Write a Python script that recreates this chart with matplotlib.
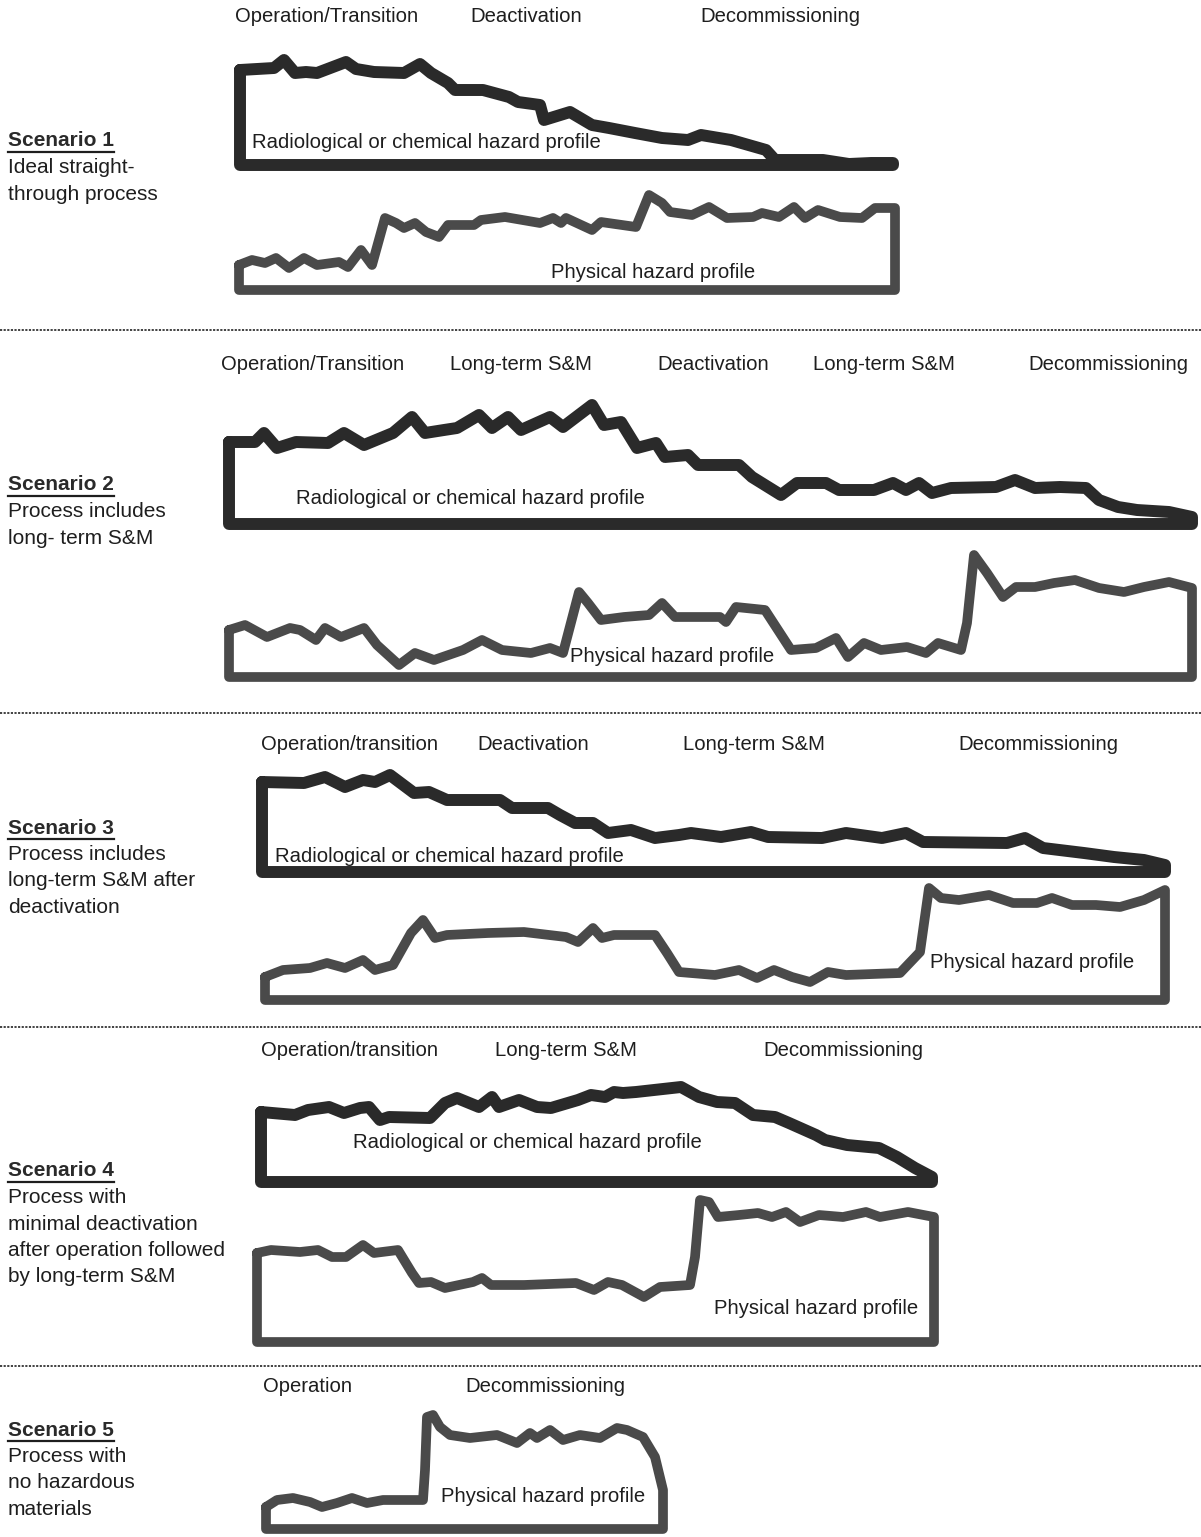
import matplotlib
matplotlib.use("Agg")
import matplotlib.pyplot as plt

plt.rcParams['font.family'] = ['Liberation Sans', 'DejaVu Sans']

W, H = 1201, 1537
TEXT_COL = '#1e1e1e'
RAD_COL = '#2a2a2a'
PHYS_COL = '#4a4a4a'

# ---- profile outlines (top edge), in page pixel units ----
# scenario 1
s1_rad_x = [240, 274, 284, 295, 306, 317, 346, 356, 374, 404, 420, 431, 448, 455, 483, 509, 518, 540,
            544, 570, 592, 609, 635, 662, 688, 701, 731, 766, 775, 823, 849, 871, 893]
s1_rad_y = [70, 68, 60, 73, 72, 73, 62, 69, 72, 73, 64, 73, 83, 90, 90, 97, 102, 105,
            120, 112, 125, 128, 133, 138, 140, 135, 140, 150, 160, 160, 164, 163, 163]
s1_rad_base = 165

s1_phys_x = [239, 252, 265, 276, 289, 304, 317, 339, 348, 361, 372, 385, 396, 404, 415, 426, 439, 448,
             474, 481, 505, 540, 553, 561, 566, 592, 601, 636, 649, 662, 670, 692, 709, 727, 753, 762,
             779, 794, 805, 818, 840, 862, 875, 895]
s1_phys_y = [265, 260, 263, 258, 268, 258, 265, 262, 267, 250, 265, 218, 223, 228, 223, 232, 237, 225,
             225, 220, 217, 223, 218, 223, 218, 230, 222, 227, 195, 203, 212, 215, 207, 218, 217, 213,
             217, 207, 218, 210, 217, 218, 208, 208]
s1_phys_base = 290

# scenario 2
s2_rad_x = [229, 255, 264, 277, 296, 328, 344, 364, 393, 412, 425, 444, 457, 479, 492, 508, 521, 550,
            563, 592, 604, 621, 637, 656, 665, 688, 698, 739, 752, 781, 797, 826, 839, 874, 893, 906,
            919, 932, 951, 996, 1015, 1035, 1060, 1086, 1099, 1118, 1137, 1169, 1192]
s2_rad_y = [442, 442, 433, 448, 442, 443, 433, 445, 433, 417, 433, 430, 428, 415, 428, 417, 430, 417,
            427, 405, 425, 422, 448, 443, 457, 455, 465, 465, 477, 495, 483, 483, 490, 490, 483, 490,
            483, 493, 488, 487, 480, 488, 487, 488, 500, 507, 510, 512, 517]
s2_rad_base = 524

s2_phys_x = [229, 245, 267, 290, 300, 316, 325, 341, 364, 377, 399, 415, 434, 463, 482, 502, 531, 550,
             563, 579, 588, 601, 624, 649, 662, 675, 720, 726, 736, 765, 778, 791, 816, 836, 848, 864,
             881, 907, 926, 938, 961, 967, 974, 987, 1003, 1016, 1035, 1054, 1075, 1099, 1124, 1144,
             1169, 1192]
s2_phys_y = [630, 625, 637, 628, 630, 640, 628, 637, 628, 645, 665, 653, 660, 650, 640, 650, 653, 648,
             653, 592, 603, 620, 617, 615, 603, 617, 617, 622, 607, 610, 630, 650, 648, 638, 657, 643,
             650, 647, 653, 643, 650, 623, 555, 573, 597, 587, 587, 583, 580, 588, 592, 587,
             582, 588]
s2_phys_base = 677

# scenario 3
s3_rad_x = [262, 304, 325, 345, 363, 375, 390, 414, 429, 447, 500, 512, 548, 560, 575, 593, 608, 631,
            655, 679, 691, 721, 751, 768, 822, 846, 882, 906, 923, 1007, 1025, 1043, 1084, 1114, 1144,
            1165]
s3_rad_y = [782, 783, 777, 787, 780, 782, 775, 793, 792, 800, 800, 808, 808, 815, 823, 823, 833, 830,
            838, 835, 833, 837, 832, 837, 838, 833, 838, 833, 842, 843, 838, 848, 853, 857, 860,
            865]
s3_rad_base = 872

s3_phys_x = [265, 283, 310, 327, 345, 363, 375, 393, 411, 423, 435, 447, 488, 524, 566, 578, 593, 602,
             614, 655, 667, 679, 715, 739, 757, 774, 792, 810, 828, 846, 900, 920, 929, 941, 959, 989,
             1013, 1037, 1052, 1072, 1096, 1120, 1144, 1165]
s3_phys_y = [977, 970, 968, 963, 968, 960, 970, 965, 933, 920, 938, 935, 933, 932, 937, 942, 928, 938,
             935, 935, 953, 972, 975, 970, 978, 970, 977, 982, 972, 975, 973, 952, 888, 898, 900, 895,
             903, 903, 898, 905, 905, 907, 900, 890]
s3_phys_base = 1000

# scenario 4
s4_rad_x = [261, 295, 308, 329, 344, 360, 369, 380, 389, 430, 445, 457, 479, 492, 499, 519, 537, 551,
            578, 591, 605, 614, 623, 636, 654, 681, 699, 717, 735, 753, 775, 789, 816, 825, 847, 879,
            897, 915, 932]
s4_rad_y = [1112, 1115, 1110, 1107, 1113, 1108, 1107, 1120, 1117, 1118, 1103, 1098, 1107, 1097, 1107,
            1100, 1107, 1108, 1100, 1095, 1097, 1092, 1093, 1092, 1090, 1087, 1097, 1102, 1103, 1115,
            1117, 1123, 1135, 1140, 1145, 1148, 1157, 1168, 1177]
s4_rad_base = 1182

s4_phys_x = [257, 271, 300, 318, 332, 346, 363, 374, 398, 412, 419, 431, 445, 473, 482, 491, 524, 576,
             594, 608, 622, 644, 660, 690, 695, 700, 709, 718, 739, 758, 772, 786, 800, 819, 843, 866,
             880, 908, 934]
s4_phys_y = [1253, 1250, 1252, 1250, 1257, 1257, 1245, 1253, 1250, 1273, 1283, 1282, 1288, 1282, 1278,
             1285, 1285, 1283, 1290, 1282, 1285, 1297, 1287, 1285, 1257, 1200, 1202, 1217, 1215, 1213,
             1217, 1212, 1222, 1215, 1217, 1212, 1217, 1212, 1217]
s4_phys_base = 1342

# scenario 5
s5_phys_x = [266, 277, 293, 310, 322, 337, 352, 367, 383, 423, 425, 427, 433, 440, 450, 470, 497, 517,
             530, 537, 550, 563, 580, 600, 617, 627, 643, 655, 663]
s5_phys_y = [1507, 1500, 1498, 1502, 1507, 1503, 1498, 1503, 1500, 1500, 1470, 1417, 1415, 1427, 1435,
             1438, 1435, 1443, 1433, 1438, 1430, 1440, 1435, 1438, 1428, 1430, 1437, 1457, 1490]
s5_phys_base = 1529

# ---- text ----
phase_labels = [
    (16, [(235, 'Operation/Transition'), (470, 'Deactivation'), (700, 'Decommissioning')]),
    (364, [(221, 'Operation/Transition'), (450, 'Long-term S&M'), (657, 'Deactivation'),
           (813, 'Long-term S&M'), (1028, 'Decommissioning')]),
    (745, [(261, 'Operation/transition'), (477, 'Deactivation'), (683, 'Long-term S&M'),
           (958, 'Decommissioning')]),
    (1050, [(261, 'Operation/transition'), (495, 'Long-term S&M'), (763, 'Decommissioning')]),
    (1387, [(263, 'Operation'), (465, 'Decommissioning')]),
]
profile_labels = [
    (252, 143, 'Radiological or chemical hazard profile'),
    (551, 272, 'Physical hazard profile'),
    (296, 498, 'Radiological or chemical hazard profile'),
    (570, 657, 'Physical hazard profile'),
    (275, 857, 'Radiological or chemical hazard profile'),
    (930, 963, 'Physical hazard profile'),
    (353, 1143, 'Radiological or chemical hazard profile'),
    (714, 1309, 'Physical hazard profile'),
    (441, 1497, 'Physical hazard profile'),
]
scenario_titles = ['Scenario 1', 'Scenario 2', 'Scenario 3', 'Scenario 4', 'Scenario 5']
scenario_title_y = [141, 485, 828, 1171, 1430]
scenario_desc = [
    ['Ideal straight-', 'through process'],
    ['Process includes', 'long- term S&M'],
    ['Process includes', 'long-term S&M after', 'deactivation'],
    ['Process with', 'minimal deactivation', 'after operation followed', 'by long-term S&M'],
    ['Process with', 'no hazardous', 'materials'],
]
divider_y = [330, 713, 1027, 1366]


def draw_profile(ax, xs, ys, base, color, lw):
    px = list(xs) + [xs[-1], xs[0], xs[0]]
    py = list(ys) + [base, base, ys[0]]
    ax.plot(px, py, color=color, lw=lw, solid_joinstyle='round', solid_capstyle='round')


fig = plt.figure(figsize=(W / 100, H / 100), dpi=100)
ax = fig.add_axes([0, 0, 1, 1])
ax.set_xlim(0, W)
ax.set_ylim(H, 0)
ax.axis('off')

RAD_LW, PHYS_LW = 8.6, 7.0
draw_profile(ax, s1_rad_x, s1_rad_y, s1_rad_base, RAD_COL, RAD_LW)
draw_profile(ax, s1_phys_x, s1_phys_y, s1_phys_base, PHYS_COL, PHYS_LW)
draw_profile(ax, s2_rad_x, s2_rad_y, s2_rad_base, RAD_COL, RAD_LW)
draw_profile(ax, s2_phys_x, s2_phys_y, s2_phys_base, PHYS_COL, PHYS_LW)
draw_profile(ax, s3_rad_x, s3_rad_y, s3_rad_base, RAD_COL, RAD_LW)
draw_profile(ax, s3_phys_x, s3_phys_y, s3_phys_base, PHYS_COL, PHYS_LW)
draw_profile(ax, s4_rad_x, s4_rad_y, s4_rad_base, RAD_COL, RAD_LW)
draw_profile(ax, s4_phys_x, s4_phys_y, s4_phys_base, PHYS_COL, PHYS_LW)
draw_profile(ax, s5_phys_x, s5_phys_y, s5_phys_base, PHYS_COL, PHYS_LW)

for y in divider_y:
    ax.plot([0, W], [y, y], color='#333333', lw=1.3, ls=(0, (1.2, 0.8)))

for y, items in phase_labels:
    for x, s in items:
        ax.text(x, y, s, fontsize=14.6, color=TEXT_COL, ha='left', va='center')

for x, y, s in profile_labels:
    ax.text(x, y, s, fontsize=14.6, color=TEXT_COL, ha='left', va='center')

titles = []
for title, ty, lines in zip(scenario_titles, scenario_title_y, scenario_desc):
    t = ax.text(8, ty, title, fontsize=15, fontweight='bold', color='#2a2a2a', ha='left', va='center')
    titles.append((t, ty))
    for i, line in enumerate(lines):
        ax.text(8, ty + 26.5 * (i + 1), line, fontsize=15, color=TEXT_COL, ha='left', va='center')

# underline the scenario titles
fig.canvas.draw()
inv = ax.transData.inverted()
for t, ty in titles:
    bb = t.get_window_extent()
    x0, _ = inv.transform((bb.x0, bb.y0))
    x1, _ = inv.transform((bb.x1, bb.y0))
    ax.plot([x0, x1], [ty + 11, ty + 11], color=TEXT_COL, lw=1.6)

fig.savefig('out.png', dpi=100, facecolor='white')
